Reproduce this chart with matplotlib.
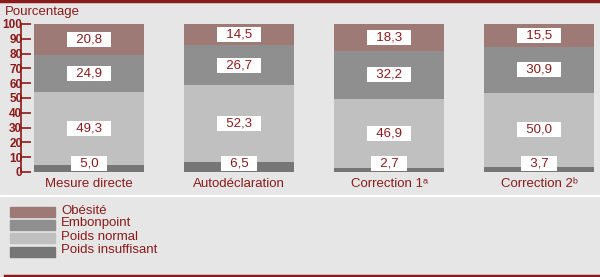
import matplotlib.pyplot as plt
from matplotlib import font_manager

categories = ["Mesure directe", "Autodéclaration", "Correction 1ᵃ", "Correction 2ᵇ"]
series = ["Poids insuffisant", "Poids normal", "Embonpoint", "Obésité"]
insuffisant = [5.0, 6.5, 2.7, 3.7]
normal = [49.3, 52.3, 46.9, 50.0]
embonpoint = [24.9, 26.7, 32.2, 30.9]
obesite = [20.8, 14.5, 18.3, 15.5]
yticks = [0, 10, 20, 30, 40, 50, 60, 70, 80, 90, 100]

couleurs = ["#767676", "#c0c0c0", "#8f8f8f", "#9e7a77"]
rouge = "#8b1a1a"
fond = "#e6e6e6"

noms = set(f.name for f in font_manager.fontManager.ttflist)
if "Liberation Sans Narrow" in noms:
    plt.rcParams['font.family'] = ['Liberation Sans Narrow', 'DejaVu Sans']
else:
    plt.rcParams['font.family'] = ['Liberation Sans', 'DejaVu Sans']

fig = plt.figure(figsize=(6, 2.77), dpi=100, facecolor=fond)
ax = fig.add_axes([21/600, 1-172/277, 1-21/600, (172-24)/277])
ax.set_facecolor(fond)

x = range(len(categories))
bas = [0]*len(categories)
for vals, c in zip([insuffisant, normal, embonpoint, obesite], couleurs):
    ax.bar(x, vals, bottom=bas, width=0.733, color=c, linewidth=0)
    for i, v in enumerate(vals):
        yc = bas[i] + v/2
        if yc < 5.5:
            yc = 5.5
        ax.text(i, yc, "  " + ("%.1f" % v).replace(".", ",") + "  ", ha="center", va="center",
                color=rouge, fontsize=9.5,
                bbox=dict(boxstyle="square,pad=0.12", fc="white", ec="none"))
    bas = [b + v for b, v in zip(bas, vals)]

ax.set_xlim(-68/150, (600-89)/150)
ax.set_ylim(0, 100)
ax.set_yticks(yticks)
ax.tick_params(axis="y", direction="in", length=7, width=1.2, colors=rouge,
               labelsize=8.5, pad=-1)
ax.set_xticks(list(x))
ax.set_xticklabels(categories, color=rouge, fontsize=9.5)
ax.tick_params(axis="x", length=0, pad=4)
for s in ["top", "right", "bottom"]:
    ax.spines[s].set_visible(False)
ax.spines["left"].set_color(rouge)
ax.spines["left"].set_linewidth(1.2)
for lab in ax.get_yticklabels():
    lab.set_fontweight("bold")

fig.text(5/600, 1-12/277, "Pourcentage", color=rouge, fontsize=9.5, va="center")

# legende
leg_y = [212, 224.5, 238, 251.5]
for nom, c, yy in zip(series[::-1], couleurs[::-1], leg_y):
    fig.patches.append(plt.Rectangle((10/600, 1-(yy+5)/277), 45/600, 10/277,
                                     transform=fig.transFigure, color=c))
    fig.text(61/600, 1-(yy-1.5)/277, nom, color=rouge, fontsize=9.5, va="center")

# lignes decoratives
fig.add_artist(plt.Line2D([0, 1], [1-1/277, 1-1/277], color=rouge, lw=2.5))
fig.add_artist(plt.Line2D([0, 1], [1-196/277, 1-196/277], color="white", lw=1.5))
fig.add_artist(plt.Line2D([5/600, 1], [1-275.5/277, 1-275.5/277], color=rouge, lw=2.5))

fig.savefig("out.png", dpi=100, facecolor=fond)
